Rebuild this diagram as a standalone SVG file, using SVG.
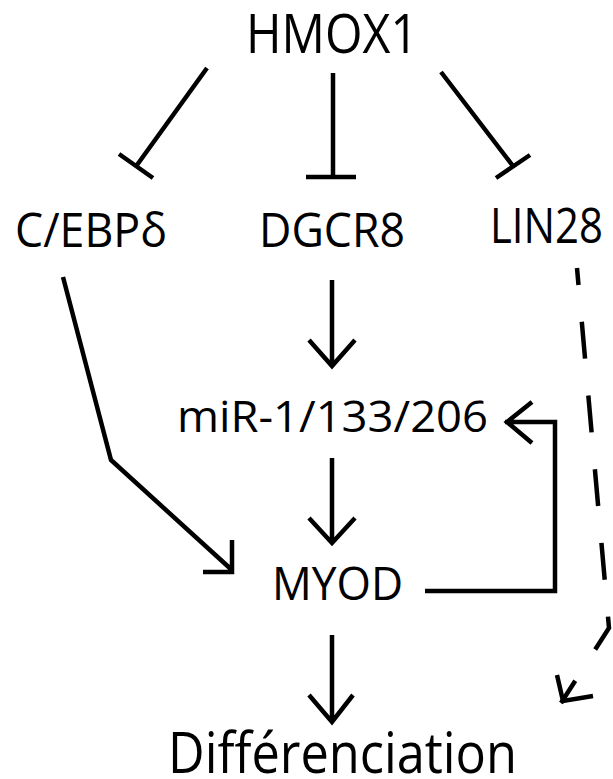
<svg xmlns="http://www.w3.org/2000/svg" width="613" height="779" viewBox="0 0 613 779">
<style>
text{font-family:"Open Sans","Noto Sans","Liberation Sans",sans-serif;fill:#000;}
.c{stroke:#000;stroke-width:4.5;fill:none;stroke-linecap:butt;stroke-linejoin:miter;}
.d{stroke-dasharray:37 37;stroke-dashoffset:20;}
</style>
<rect width="613" height="779" fill="#fff"/>
<g id="HMOX1"><text x="246" y="53" font-size="54" textLength="172" lengthAdjust="spacingAndGlyphs">HMOX1</text></g>
<g id="CEBPd"><text x="15" y="247" font-size="47" textLength="152" lengthAdjust="spacingAndGlyphs">C/EBPδ</text></g>
<g id="DGCR8"><text x="259" y="247" font-size="47" textLength="146" lengthAdjust="spacingAndGlyphs">DGCR8</text></g>
<g id="LIN28"><text x="490" y="243" font-size="49" textLength="113" lengthAdjust="spacingAndGlyphs">LIN28</text></g>
<g id="miR"><text x="177" y="432" font-size="43" textLength="311" lengthAdjust="spacingAndGlyphs">miR-1/133/206</text></g>
<g id="MYOD"><text x="272" y="600" font-size="46" textLength="131" lengthAdjust="spacingAndGlyphs">MYOD</text></g>
<g id="Diff"><text x="168" y="773" font-size="57" textLength="349" lengthAdjust="spacingAndGlyphs">Différenciation</text></g>
<g id="connectors">
<path class="c" d="M207,68 L137,165 M119,154 L153,178"/>
<path class="c" d="M333,73 L333,177 M306,177 L356,177"/>
<path class="c" d="M441,72 L513,166 M496,178 L530,155"/>
<path class="c" d="M332,280 L332,366 M309,340 L332,366 L355,340"/>
<path class="c" d="M332,458 L332,543 M309,518 L332,543 L355,518"/>
<path class="c" d="M332,635 L332,722 M309,695 L332,722 L353,695"/>
<path class="c" d="M63,277 L111,460 L233,571 M232,540 L232,572 L203,572"/>
<path class="c" d="M425,591 L555,591 L555,422 L505,422 M532,402 L507,422 L532,443"/>
<path class="c d" d="M577,268 L609,628 L561,703"/>
<path class="c" d="M557,675 L563,701 L593,696"/>
</g>
</svg>
